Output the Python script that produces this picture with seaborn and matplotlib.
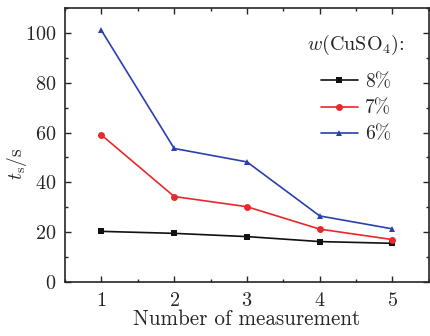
import matplotlib
matplotlib.use("Agg")
import matplotlib.pyplot as plt
import seaborn as sns
import pandas as pd
from matplotlib.ticker import MultipleLocator

measurement = [1, 2, 3, 4, 5]
t_8 = [20.3, 19.5, 18.2, 16.2, 15.5]
t_7 = [59.0, 34.3, 30.2, 21.2, 17.0]
t_6 = [101.0, 53.6, 48.2, 26.5, 21.3]
labels = ["8%", "7%", "6%"]

df = pd.DataFrame({
    "x": measurement * 3,
    "t": t_8 + t_7 + t_6,
    "w": [labels[0]] * 5 + [labels[1]] * 5 + [labels[2]] * 5,
})

sns.set_style("ticks")
plt.rcParams["font.family"] = ["cmr10", "DejaVu Serif"]
plt.rcParams["mathtext.fontset"] = "cm"
plt.rcParams["axes.formatter.use_mathtext"] = True

fig, ax = plt.subplots(figsize=(4.31, 3.36), dpi=100)
fig.subplots_adjust(left=0.151, right=0.995, top=0.976, bottom=0.161)

palette = {"8%": "#111111", "7%": "#e8282a", "6%": "#2a3fb0"}
markers = {"8%": "s", "7%": "o", "6%": "^"}
sns.lineplot(data=df, x="x", y="t", hue="w", style="w", palette=palette,
             markers=markers, dashes=False, markersize=5, linewidth=1.2,
             markeredgewidth=0, ax=ax)

ax.set_xlim(0.5, 5.5)
ax.set_ylim(0, 110)
ax.xaxis.set_major_locator(MultipleLocator(1))
ax.xaxis.set_minor_locator(MultipleLocator(0.5))
ax.yaxis.set_major_locator(MultipleLocator(20))
ax.yaxis.set_minor_locator(MultipleLocator(10))
ax.tick_params(which="both", direction="in", top=True, right=True, labelsize=14.5, width=1)
ax.tick_params(axis="x", pad=7)
ax.tick_params(axis="y", pad=6)
ax.tick_params(which="major", length=4)
ax.tick_params(which="minor", length=2.5)
for s in ax.spines.values():
    s.set_linewidth(1.2)

ax.set_xlabel("Number of measurement", fontsize=15.2, labelpad=0)
ax.set_ylabel(r"$t_{\rm s}$/s", fontsize=14)
ax.yaxis.set_label_coords(-0.10, 0.43)

leg = ax.legend(title=r"$w$(CuSO$_4$):", frameon=False, fontsize=14,
                title_fontsize=14.5, loc="center",
                bbox_to_anchor=(356 / 431, 1 - 88 / 336),
                bbox_transform=fig.transFigure,
                handlelength=1.9, handletextpad=0.4, labelspacing=0.42)
leg._legend_box.sep = 12

fig.savefig("out.png", dpi=100)
